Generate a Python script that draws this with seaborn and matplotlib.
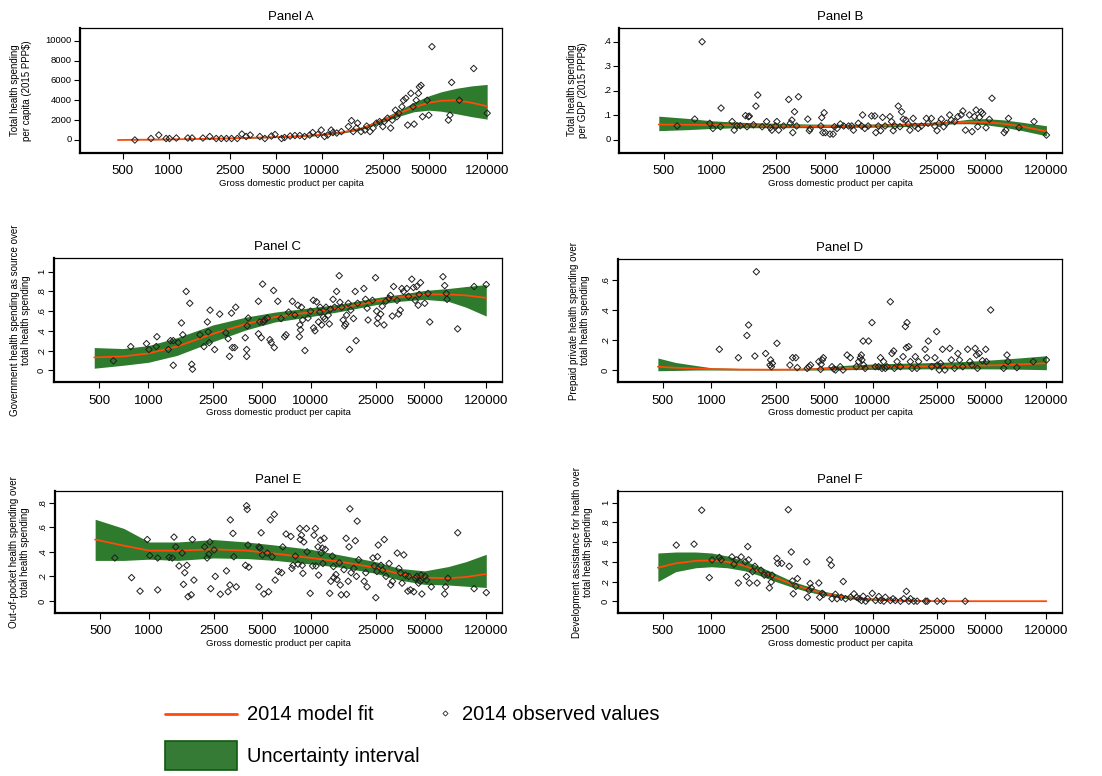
import numpy as np
import pandas as pd
import matplotlib
matplotlib.use("Agg")
import matplotlib.pyplot as plt
import seaborn as sns
from matplotlib.lines import Line2D
from matplotlib.patches import Rectangle

sns.set_theme(style="white")
plt.rcParams["font.family"] = ["Liberation Sans", "DejaVu Sans"]
plt.rcParams["text.color"] = "black"
plt.rcParams["axes.labelcolor"] = "black"
plt.rcParams["xtick.color"] = "black"
plt.rcParams["ytick.color"] = "black"

# ---------------------------------------------------------------- data
XTICKS = [500, 1000, 2500, 5000, 10000, 25000, 50000, 120000]
XTICK_LABELS = ["500", "1000", "2500", "5000", "10000", "25000", "50000", "120000"]

# Panel A: total health spending per capita
a_gdp = [600, 765, 860, 960, 1010, 1120, 1330, 1420, 1670, 1850, 2040, 2200, 2380, 2570, 2800,
         3000, 3200, 3400, 3930, 4240, 4680, 4940, 5450, 5700, 6200, 6660, 7170, 7700, 8320,
         8700, 9400, 9900, 10400, 10900, 11500, 11800, 12500, 13400, 14900, 15600, 16000,
         16800, 17100, 18000, 19100, 19600, 20600, 21600, 22700, 23800, 25000, 25500, 26800,
         28100, 28800, 30200, 30900, 31700, 33300, 34100, 35300, 36300, 38100, 39400, 40000,
         41300, 42700, 43300, 44400, 45400, 48700, 49900, 52300, 67000, 68600, 70300, 79000,
         98000, 120000]
a_val = [0, 150, 500, 150, 150, 200, 200, 200, 200, 350, 150, 150, 150, 150, 150,
         600, 350, 500, 350, 150, 400, 550, 150, 250, 400, 450, 450, 350, 500,
         750, 550, 1000, 350, 500, 1000, 750, 700, 850, 1350, 1950, 850,
         1200, 1700, 850, 1000, 1400, 850, 1200, 1700, 1850, 1350, 1850, 2200,
         1200, 2000, 3000, 2350, 2700, 3350, 4000, 4200, 1500, 4700, 3350, 1600,
         4000, 4700, 5350, 5500, 2350, 4000, 2500, 9400, 2000, 2500, 5800, 4000,
         7200, 2700]
a_fit_gdp = [465, 700, 1000, 1500, 2500, 4000, 6000, 9000, 13000, 18000, 25000, 32000, 40000,
             50000, 60000, 75000, 95000, 120000]
a_fit = [0, 30, 60, 100, 170, 250, 330, 480, 720, 1150, 2000, 2700, 3300, 3750, 3950, 4000,
         3750, 3400]
a_lo = [0, 20, 45, 80, 140, 210, 290, 420, 640, 1030, 1800, 2400, 2850, 3000, 2900, 2650,
        2350, 2100]
a_hi = [0, 40, 80, 120, 200, 290, 370, 540, 800, 1270, 2200, 3000, 3800, 4450, 4850, 5200,
        5450, 5600]

# Panel B: total health spending over GDP
b_gdp = [605, 778, 865, 965, 1010, 1125, 1135, 1330, 1370, 1425, 1495, 1610, 1645, 1680, 1700,
         1805, 1870, 1920, 2045, 2180, 2300, 2350, 2480, 2525, 2590, 2780, 2990, 3060, 3130,
         3170, 3250, 3350, 3440, 3930, 4070, 4020, 4740, 4800, 4880, 4970, 5060, 5400, 5650,
         5760, 5980, 6270, 6570, 7050, 7380, 7560, 8110, 8500, 8620, 8900, 9340, 9800, 10270,
         10420, 10800, 11160, 11480, 11900, 12750, 13050, 13370, 13690, 14370, 14720, 15070,
         15430, 16030, 16570, 16970, 17800, 18230, 19110, 20030, 21500, 22020, 23090, 24220,
         25040, 25760, 26630, 27530, 28610, 30000, 30720, 32200, 33760, 35400, 36250, 37630,
         39840, 41380, 42770, 43800, 44850, 45930, 47040, 48170, 50510, 52960, 55020, 65500,
         67100, 69700, 81000, 100500, 120000]
b_val = [0.057, 0.085, 0.40, 0.068, 0.047, 0.054, 0.13, 0.075, 0.04, 0.058, 0.058, 0.099,
         0.054, 0.095, 0.097, 0.062, 0.138, 0.183, 0.054, 0.075, 0.05, 0.04, 0.057, 0.075,
         0.04, 0.057, 0.165, 0.068, 0.081, 0.03, 0.115, 0.057, 0.176, 0.085, 0.045, 0.038,
         0.057, 0.091, 0.03, 0.111, 0.03, 0.024, 0.024, 0.054, 0.047, 0.065, 0.057, 0.057,
         0.057, 0.04, 0.068, 0.057, 0.102, 0.047, 0.057, 0.098, 0.098, 0.03, 0.057, 0.038,
         0.092, 0.057, 0.095, 0.075, 0.038, 0.057, 0.138, 0.054, 0.115, 0.085, 0.081, 0.065,
         0.04, 0.088, 0.057, 0.047, 0.057, 0.088, 0.068, 0.088, 0.057, 0.038, 0.068, 0.085,
         0.054, 0.068, 0.102, 0.081, 0.075, 0.095, 0.102, 0.118, 0.04, 0.102, 0.034, 0.095,
         0.122, 0.054, 0.092, 0.115, 0.108, 0.05, 0.084, 0.17, 0.03, 0.04, 0.088, 0.05, 0.075,
         0.02]
b_fit_gdp = [465, 700, 1000, 1500, 2500, 4000, 6000, 10000, 15000, 20000, 25000, 32000, 40000,
             50000, 65000, 85000, 120000]
b_fit = [0.063, 0.062, 0.061, 0.060, 0.058, 0.057, 0.057, 0.058, 0.061, 0.064, 0.067, 0.071,
         0.074, 0.073, 0.066, 0.055, 0.035]
b_lo = [0.038, 0.042, 0.047, 0.050, 0.050, 0.050, 0.051, 0.052, 0.054, 0.058, 0.062, 0.066,
        0.066, 0.062, 0.052, 0.038, 0.017]
b_hi = [0.097, 0.088, 0.078, 0.072, 0.068, 0.065, 0.064, 0.065, 0.068, 0.071, 0.073, 0.077,
        0.085, 0.087, 0.082, 0.072, 0.058]

# Panel C: government share of total health spending
c_gdp = [610, 780, 975, 1010, 1120, 1130, 1330, 1370, 1425, 1425, 1530, 1600, 1630, 1710, 1800,
         1850, 1870, 2080, 2200, 2310, 2340, 2370, 2400, 2560, 2750, 3000, 3100, 3160, 3250,
         3290, 3400, 3450, 3950, 4030, 4030, 4060, 4120, 4760, 4760, 4850, 4960, 5050, 5100,
         5200, 5400, 5600, 5700, 5900, 5960, 6260, 6560, 6900, 7040, 7300, 7700, 7980, 8320,
         8500, 8560, 8640, 8760, 8900, 9200, 9610, 9960, 10360, 10400, 10600, 10850, 11150,
         11350, 11400, 11650, 11950, 12200, 12400, 12800, 13000, 13200, 13700, 14000, 14400,
         14950, 15100, 15500, 15800, 16150, 16400, 16600, 17000, 17300, 17600, 18300, 18750,
         19000, 19400, 21200, 21700, 22200, 22500, 23950, 25000, 25400, 25600, 25900, 26900,
         27500, 28200, 28900, 30200, 30900, 31700, 32300, 33900, 34700, 35500, 36300, 37200,
         39000, 39900, 41800, 42800, 43800, 44800, 45800, 46400, 47300, 50200, 52600, 53900,
         65000, 66600, 68200, 68900, 80000, 101000, 120000]
c_val = [0.095, 0.24, 0.27, 0.21, 0.24, 0.34, 0.21, 0.30, 0.30, 0.05, 0.28, 0.48, 0.36, 0.80,
         0.68, 0.06, 0.01, 0.36, 0.24, 0.49, 0.39, 0.28, 0.61, 0.21, 0.57, 0.38, 0.32, 0.14,
         0.58, 0.23, 0.23, 0.64, 0.33, 0.14, 0.21, 0.45, 0.53, 0.70, 0.37, 0.49, 0.33, 0.875,
         0.49, 0.51, 0.53, 0.31, 0.28, 0.81, 0.23, 0.70, 0.525, 0.34, 0.36, 0.59, 0.70, 0.56,
         0.66, 0.34, 0.46, 0.41, 0.64, 0.51, 0.20, 0.53, 0.60, 0.71, 0.43, 0.40, 0.695, 0.49,
         0.59, 0.64, 0.46, 0.54, 0.52, 0.64, 0.56, 0.47, 0.62, 0.72, 0.64, 0.80, 0.96, 0.69,
         0.64, 0.51, 0.45, 0.47, 0.56, 0.68, 0.21, 0.61, 0.525, 0.80, 0.30, 0.68, 0.83, 0.72,
         0.63, 0.51, 0.71, 0.94, 0.60, 0.475, 0.53, 0.57, 0.65, 0.46, 0.70, 0.73, 0.76, 0.55,
         0.85, 0.71, 0.57, 0.61, 0.83, 0.80, 0.83, 0.75, 0.925, 0.84, 0.71, 0.85, 0.66, 0.77,
         0.89, 0.68, 0.78, 0.49, 0.95, 0.86, 0.78, 0.72, 0.42, 0.85, 0.87]
c_fit_gdp = [465, 700, 1000, 1500, 2500, 4000, 6000, 10000, 15000, 25000, 35000, 50000, 70000,
             90000, 120000]
c_fit = [0.13, 0.14, 0.17, 0.24, 0.37, 0.47, 0.54, 0.59, 0.63, 0.70, 0.74, 0.77, 0.77, 0.76,
         0.735]
c_lo = [0.02, 0.05, 0.08, 0.15, 0.29, 0.41, 0.49, 0.545, 0.595, 0.665, 0.70, 0.72, 0.70, 0.64,
        0.55]
c_hi = [0.23, 0.22, 0.25, 0.33, 0.46, 0.54, 0.59, 0.635, 0.67, 0.735, 0.77, 0.81, 0.83, 0.85,
        0.87]

# Panel D: prepaid private share of total health spending
d_gdp = [1120, 1470, 1660, 1700, 1860, 1900, 2170, 2310, 2330, 2355, 2390, 2550, 3070, 3190,
         3340, 3410, 3930, 4030, 4120, 4640, 4760, 4800, 4880, 4950, 5600, 5750, 5890, 6300,
         6560, 6950, 7280, 7930, 8200, 8400, 8520, 8600, 8740, 8800, 9000, 9450, 9920, 10400,
         10900, 11200, 11440, 11710, 12000, 12300, 12900, 13200, 13530, 13660, 14200, 14900,
         15470, 15990, 16220, 16370, 16770, 17170, 17580, 18430, 18870, 19310, 21200, 21700,
         22200, 23300, 24400, 25000, 25250, 25950, 26450, 27200, 28100, 30150, 30860, 32300,
         33860, 34650, 36290, 38950, 40240, 41390, 43380, 44180, 44810, 45880, 48100, 50400,
         50880, 54100, 65200, 68300, 69300, 78700, 99500, 120000]
d_val = [0.138, 0.082, 0.23, 0.30, 0.093, 0.655, 0.11, 0.033, 0.067, 0.022, 0.044, 0.178,
         0.033, 0.082, 0.082, 0.016, 0.011, 0.022, 0.033, 0.056, 0.004, 0.038, 0.067, 0.082,
         0.022, 0.007, 0.0, 0.022, 0.0, 0.10, 0.082, 0.022, 0.056, 0.082, 0.10, 0.067, 0.193,
         0.033, 0.011, 0.193, 0.316, 0.022, 0.022, 0.082, 0.011, 0.056, 0.011, 0.022, 0.455,
         0.11, 0.127, 0.011, 0.056, 0.022, 0.089, 0.29, 0.149, 0.316, 0.156, 0.056, 0.011,
         0.089, 0.011, 0.056, 0.138, 0.082, 0.193, 0.022, 0.082, 0.256, 0.033, 0.0, 0.044,
         0.138, 0.0, 0.144, 0.067, 0.011, 0.11, 0.067, 0.022, 0.138, 0.056, 0.033, 0.144, 0.10,
         0.011, 0.11, 0.062, 0.138, 0.056, 0.40, 0.011, 0.10, 0.056, 0.016, 0.056, 0.067]
d_fit_gdp = [465, 600, 800, 1000, 1500, 2500, 4000, 5000, 7000, 10000, 15000, 25000, 40000,
             60000, 85000, 120000]
d_fit = [0.022, 0.015, 0.010, 0.006, 0.003, 0.002, 0.004, 0.008, 0.014, 0.018, 0.022, 0.025,
         0.028, 0.032, 0.038, 0.045]
d_lo = [-0.005, -0.003, 0.0, 0.0, 0.0, 0.0, 0.0, 0.0, 0.002, 0.004, 0.006, 0.008, 0.008, 0.007,
        0.005, 0.002]
d_hi = [0.080, 0.050, 0.030, 0.015, 0.010, 0.008, 0.012, 0.020, 0.032, 0.040, 0.045, 0.050,
        0.058, 0.070, 0.082, 0.095]

# Panel E: out-of-pocket share of total health spending
e_gdp = [615, 780, 880, 975, 1010, 1130, 1130, 1330, 1390, 1425, 1460, 1530, 1600, 1630, 1660,
         1710, 1740, 1820, 1850, 1890, 2200, 2280, 2340, 2370, 2400, 2520, 2560, 2750, 3000,
         3070, 3150, 3170, 3290, 3330, 3450, 3930, 3990, 4030, 4070, 4120, 4760, 4760, 4830,
         4910, 5000, 5100, 5360, 5460, 5590, 5740, 5920, 5990, 6270, 6570, 6670, 6990, 7490,
         7600, 7710, 7980, 8290, 8500, 8560, 8700, 8800, 8880, 9000, 9340, 9430, 9850, 10200,
         10400, 10600, 10700, 11000, 11100, 11400, 11500, 11700, 11800, 12000, 12200, 13000,
         13200, 13500, 13700, 13800, 14200, 14400, 14900, 15100, 15300, 15900, 16400, 16500,
         16900, 17100, 17300, 17600, 18300, 18700, 19000, 19200, 19600, 21200, 21700, 22100,
         24000, 24500, 25000, 25400, 25600, 25900, 26900, 27500, 28200, 28900, 30200, 30900,
         31700, 33900, 34700, 35500, 36300, 37200, 38100, 39400, 39900, 40900, 42900, 43800,
         44800, 45900, 47000, 47600, 48100, 50300, 51400, 55000, 66400, 67300, 69600, 80000,
         101000, 120000]
e_val = [0.35, 0.19, 0.08, 0.50, 0.37, 0.09, 0.35, 0.355, 0.35, 0.52, 0.44, 0.285, 0.39, 0.135,
         0.23, 0.29, 0.035, 0.05, 0.50, 0.17, 0.44, 0.35, 0.38, 0.48, 0.10, 0.415, 0.20, 0.055,
         0.245, 0.075, 0.13, 0.66, 0.55, 0.36, 0.115, 0.29, 0.775, 0.745, 0.455, 0.275, 0.44,
         0.115, 0.43, 0.555, 0.375, 0.057, 0.39, 0.075, 0.66, 0.36, 0.705, 0.17, 0.24, 0.23,
         0.44, 0.545, 0.525, 0.265, 0.29, 0.365, 0.30, 0.59, 0.50, 0.535, 0.29, 0.225, 0.48,
         0.59, 0.40, 0.062, 0.285, 0.535, 0.59, 0.285, 0.44, 0.21, 0.495, 0.39, 0.43, 0.305,
         0.51, 0.42, 0.062, 0.16, 0.365, 0.28, 0.19, 0.215, 0.175, 0.31, 0.13, 0.05, 0.255,
         0.51, 0.054, 0.16, 0.44, 0.75, 0.23, 0.265, 0.49, 0.20, 0.65, 0.335, 0.16, 0.23, 0.115,
         0.35, 0.285, 0.027, 0.24, 0.36, 0.455, 0.29, 0.25, 0.50, 0.20, 0.305, 0.13, 0.16,
         0.39, 0.265, 0.23, 0.145, 0.375, 0.21, 0.08, 0.20, 0.09, 0.075, 0.185, 0.20, 0.145,
         0.16, 0.21, 0.057, 0.20, 0.17, 0.115, 0.057, 0.115, 0.185, 0.555, 0.10, 0.068]
e_fit_gdp = [465, 700, 1000, 1500, 2500, 4000, 6000, 10000, 15000, 25000, 35000, 50000, 70000,
             90000, 120000]
e_fit = [0.50, 0.45, 0.41, 0.41, 0.42, 0.41, 0.385, 0.35, 0.32, 0.27, 0.22, 0.19, 0.185, 0.195,
         0.22]
e_lo = [0.33, 0.33, 0.34, 0.33, 0.35, 0.345, 0.33, 0.30, 0.275, 0.225, 0.17, 0.135, 0.13, 0.12,
        0.11]
e_hi = [0.665, 0.59, 0.48, 0.48, 0.50, 0.48, 0.455, 0.42, 0.375, 0.32, 0.265, 0.245, 0.28, 0.32,
        0.38]

# Panel F: development assistance share of total health spending
f_gdp = [605, 780, 870, 970, 1010, 1120, 1150, 1340, 1380, 1430, 1470, 1530, 1620, 1650, 1680,
         1700, 1720, 1800, 1860, 1920, 2030, 2130, 2240, 2290, 2350, 2380, 2550, 2580, 2730,
         3000, 3040, 3130, 3180, 3220, 3340, 3420, 3900, 3940, 4040, 4100, 4170, 4640, 4700,
         4870, 4970, 5420, 5550, 5600, 5880, 6020, 6400, 6580, 6800, 7300, 7670, 7970, 8240,
         8540, 8750, 9070, 9330, 9960, 10430, 10950, 11190, 11750, 12000, 12900, 13400, 13850,
         14900, 15630, 16230, 16800, 17200, 18050, 18920, 21330, 21840, 25200, 27600, 37600]
f_val = [0.57, 0.58, 0.925, 0.24, 0.42, 0.445, 0.42, 0.45, 0.375, 0.42, 0.185, 0.45, 0.40,
         0.25, 0.555, 0.42, 0.185, 0.30, 0.355, 0.185, 0.315, 0.265, 0.27, 0.135, 0.195, 0.265,
         0.435, 0.385, 0.385, 0.93, 0.355, 0.50, 0.205, 0.075, 0.15, 0.23, 0.40, 0.04, 0.11,
         0.18, 0.135, 0.185, 0.04, 0.08, 0.07, 0.42, 0.365, 0.025, 0.07, 0.025, 0.04, 0.20,
         0.025, 0.04, 0.075, 0.04, 0.025, 0.007, 0.05, 0.0, 0.025, 0.08, 0.007, 0.048, 0.007,
         0.0, 0.04, 0.007, 0.025, 0.007, 0.0, 0.025, 0.10, 0.0, 0.025, 0.0, 0.0, 0.0, 0.0, 0.0,
         0.0, 0.0]
f_fit_gdp = [465, 600, 800, 1000, 1250, 1600, 2000, 2500, 3200, 4000, 5000, 6500, 8000, 10000,
             14000, 20000, 30000, 50000, 120000]
f_fit = [0.34, 0.385, 0.41, 0.415, 0.40, 0.36, 0.30, 0.24, 0.17, 0.12, 0.08, 0.045, 0.03,
         0.018, 0.007, 0.002, 0.0, 0.0, 0.0]
f_lo = [0.20, 0.30, 0.34, 0.35, 0.34, 0.31, 0.26, 0.20, 0.14, 0.095, 0.06, 0.03, 0.018, 0.01,
        0.003, 0.0, 0.0, 0.0, 0.0]
f_hi = [0.49, 0.50, 0.50, 0.49, 0.46, 0.41, 0.35, 0.28, 0.20, 0.15, 0.10, 0.065, 0.045, 0.03,
        0.013, 0.005, 0.002, 0.0, 0.0]

# ---------------------------------------------------------------- styling
BAND = "#2e7b2e"
FIT = "#ff4a0a"
W, H = 1102, 776

panels = [
    dict(title="Panel A", gdp=a_gdp, val=a_val, fx=a_fit_gdp, fy=a_fit, lo=a_lo, hi=a_hi,
         ylabel="Total health spending\nper capita (2015 PPP$)",
         box=(80, 28, 502, 153), ylim=(-1310, 11280),
         yticks=[0, 2000, 4000, 6000, 8000, 10000],
         yticklabels=["0", "2000", "4000", "6000", "8000", "10000"], rot=0, labx=-0.140),
    dict(title="Panel B", gdp=b_gdp, val=b_val, fx=b_fit_gdp, fy=b_fit, lo=b_lo, hi=b_hi,
         ylabel="Total health spending\nper GDP (2015 PPP$)",
         box=(619, 28, 1062, 153), ylim=(-0.053, 0.456),
         yticks=[0, 0.1, 0.2, 0.3, 0.4], yticklabels=["0", ".1", ".2", ".3", ".4"], rot=0,
         labx=-0.093),
    dict(title="Panel C", gdp=c_gdp, val=c_val, fx=c_fit_gdp, fy=c_fit, lo=c_lo, hi=c_hi,
         ylabel="Government health spending as source over\ntotal health spending",
         box=(54, 258, 502, 382), ylim=(-0.12, 1.14),
         yticks=[0, 0.2, 0.4, 0.6, 0.8, 1.0], yticklabels=["0", ".2", ".4", ".6", ".8", "1"],
         rot=90, labx=-0.074),
    dict(title="Panel D", gdp=d_gdp, val=d_val, fx=d_fit_gdp, fy=d_fit, lo=d_lo, hi=d_hi,
         ylabel="Prepaid private health spending over\ntotal health spending",
         box=(618, 259, 1062, 382), ylim=(-0.08, 0.74),
         yticks=[0, 0.2, 0.4, 0.6], yticklabels=["0", ".2", ".4", ".6"], rot=90, labx=-0.086),
    dict(title="Panel E", gdp=e_gdp, val=e_val, fx=e_fit_gdp, fy=e_fit, lo=e_lo, hi=e_hi,
         ylabel="Out-of-pocket health spending over\ntotal health spending",
         box=(55, 491, 502, 613), ylim=(-0.098, 0.895),
         yticks=[0, 0.2, 0.4, 0.6, 0.8], yticklabels=["0", ".2", ".4", ".6", ".8"], rot=90,
         labx=-0.079),
    dict(title="Panel F", gdp=f_gdp, val=f_val, fx=f_fit_gdp, fy=f_fit, lo=f_lo, hi=f_hi,
         ylabel="Development assistance for health over\ntotal health spending",
         box=(618, 491, 1062, 613), ylim=(-0.12, 1.12),
         yticks=[0, 0.2, 0.4, 0.6, 0.8, 1.0], yticklabels=["0", ".2", ".4", ".6", ".8", "1"],
         rot=90, labx=-0.080),
]

fig = plt.figure(figsize=(W / 100, H / 100), dpi=100)
fig.patch.set_facecolor("white")

for p in panels:
    x0, y0, x1, y1 = p["box"]
    ax = fig.add_axes([x0 / W, 1 - y1 / H, (x1 - x0) / W, (y1 - y0) / H])
    ax.set_facecolor("white")

    fit_df = pd.DataFrame({"gdp": p["fx"], "fit": p["fy"], "lo": p["lo"], "hi": p["hi"]})
    obs_df = pd.DataFrame({"gdp": p["gdp"], "value": p["val"]})

    ax.fill_between(fit_df["gdp"], fit_df["lo"], fit_df["hi"], color=BAND, linewidth=0,
                    zorder=1)
    sns.lineplot(data=fit_df, x="gdp", y="fit", ax=ax, color=FIT, linewidth=1.3,
                 estimator=None, sort=False, zorder=2)
    sns.scatterplot(data=obs_df, x="gdp", y="value", ax=ax, marker="D", s=11,
                    facecolor="none", edgecolor="#1e1e1e", linewidth=0.7, zorder=3)

    ax.set_xscale("log")
    ax.set_xlim(263, 150000)
    ax.set_ylim(*p["ylim"])
    ax.set_xticks(XTICKS)
    ax.set_xticklabels(XTICK_LABELS, fontsize=9.5)
    ax.xaxis.set_minor_locator(matplotlib.ticker.NullLocator())
    ax.set_yticks(p["yticks"])
    ax.set_yticklabels(p["yticklabels"], fontsize=6.8, rotation=p["rot"],
                       va="center", ha="right" if p["rot"] == 0 else "center")
    ax.tick_params(axis="both", which="major", length=4, width=0.8, color="black",
                   labelcolor="black", direction="out", bottom=True, left=True)
    ax.tick_params(axis="x", pad=5)
    ax.tick_params(axis="y", pad=2 if p["rot"] == 0 else 5)

    for side in ("top", "right"):
        ax.spines[side].set_visible(True)
        ax.spines[side].set_linewidth(0.9)
        ax.spines[side].set_color("black")
    for side in ("left", "bottom"):
        ax.spines[side].set_linewidth(1.6)
        ax.spines[side].set_color("black")

    ax.set_title(p["title"], fontsize=9.5, pad=6, color="black")
    ax.set_xlabel("Gross domestic product per capita", fontsize=6.8, labelpad=1)
    ax.set_ylabel(p["ylabel"], fontsize=7, linespacing=1.15)
    ax.yaxis.label.set_verticalalignment("center")
    ax.yaxis.set_label_coords(p["labx"], 0.5)

# ---------------------------------------------------------------- legend
lg = fig.add_axes([0, 0, 1, 1], zorder=10)
lg.set_xlim(0, W)
lg.set_ylim(H, 0)
lg.axis("off")
lg.add_line(Line2D([165, 237], [714, 714], color=FIT, linewidth=2))
lg.add_patch(Rectangle((165, 741), 72, 29, facecolor="#357a35", edgecolor="#0f5a0f",
                       linewidth=1.2))
lg.add_line(Line2D([445], [713], marker="D", markersize=2.6, markerfacecolor="none",
                   markeredgecolor="#222222", markeredgewidth=0.6, linestyle="none"))
lg.text(247, 715, "2014 model fit", fontsize=14.5, va="center", ha="left", color="black")
lg.text(247, 756, "Uncertainty interval", fontsize=14.5, va="center", ha="left", color="black")
lg.text(462, 715, "2014 observed values", fontsize=14.5, va="center", ha="left", color="black")

fig.savefig("out.png", dpi=100, facecolor="white")
